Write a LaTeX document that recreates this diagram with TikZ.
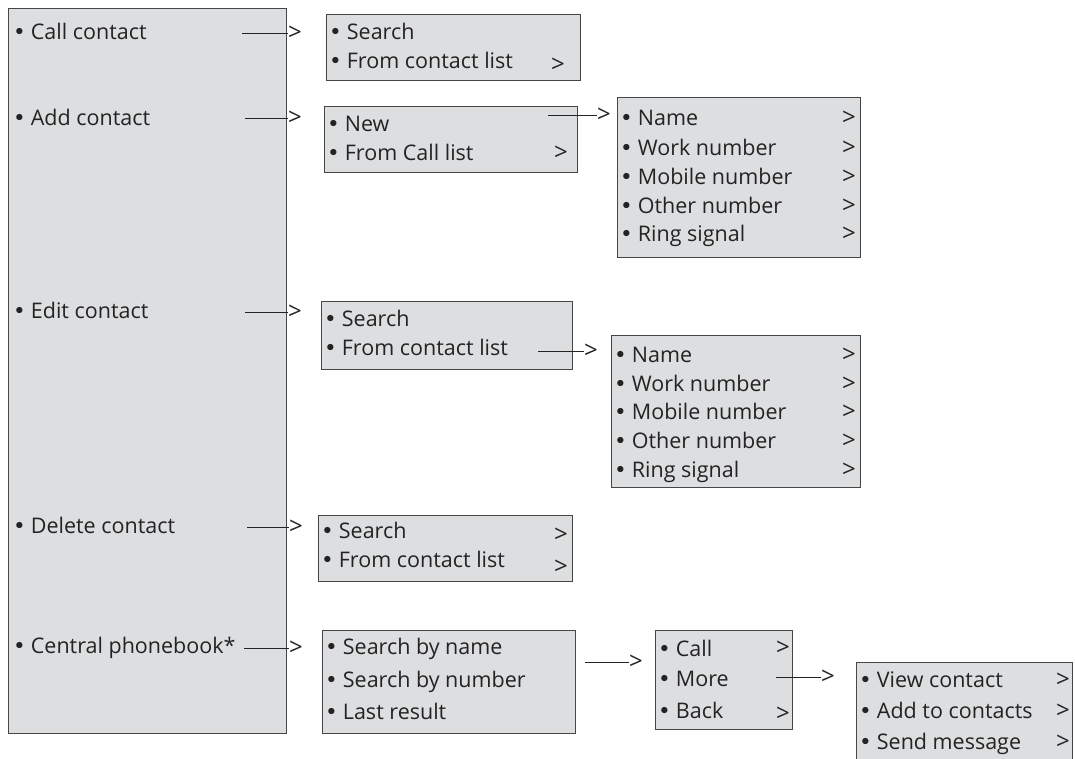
\documentclass[tikz,border=0pt]{standalone}
\usepackage{fontspec}
\setmainfont{Open Sans}
\newfontfamily\bulletfont{DejaVu Sans}
\newcommand{\mybul}{{\bulletfont •}\hspace{5pt}}
\definecolor{boxfill}{RGB}{221,222,224}
\definecolor{boxline}{RGB}{70,70,70}
\definecolor{txt}{RGB}{35,35,35}
\begin{document}
\begin{tikzpicture}[x=1pt,y=-1pt,
  box/.style={draw=boxline, fill=boxfill, line width=1.1pt, inner sep=0pt, anchor=north west},
  item/.style={anchor=base west, inner sep=0pt, font=\fontsize{21.5}{24}\selectfont, text=txt},
  gt/.style={anchor=base west, inner sep=0pt, font=\fontsize{24}{26}\selectfont, text=txt},
  tip/.style={anchor=west, inner sep=0pt, font=\fontsize{24}{26}\selectfont, text=txt},
  conn/.style={draw=txt, line width=0.9pt}]
\useasboundingbox (0,0) rectangle (1075,758);
\clip (0,0) rectangle (1075,758);

% main box
\node[box, minimum width=278, minimum height=725] (main) at (8,8) {};
\node[item] (m1) at (13,39) {\mybul Call contact};
\node[item] (m2) at (13,125) {\mybul Add contact};
\node[item] (m3) at (13,318) {\mybul Edit contact};
\node[item] (m4) at (13,533) {\mybul Delete contact};
\node[item] (m5) at (13,653) {\mybul Central phonebook*};

% box A
\node[box, minimum width=254, minimum height=66] (ba) at (326,14) {};
\node[item] (a1) at (329,39) {\mybul Search};
\node[item] (a2) at (329,68) {\mybul From contact list};
\node[gt] (a3) at (551,72) {>};

% box B
\node[box, minimum width=253, minimum height=66] (bb) at (324,106) {};
\node[item] (b1) at (327,131) {\mybul New};
\node[item] (b2) at (327,160) {\mybul From Call list};
\node[gt] (b3) at (554,160) {>};

% box C
\node[box, minimum width=243, minimum height=160] (bc) at (617,97) {};
\node[item] (c1) at (620,125) {\mybul Name};
\node[item] (c2) at (620,155) {\mybul Work number};
\node[item] (c3) at (620,184) {\mybul Mobile number};
\node[item] (c4) at (620,213) {\mybul Other number};
\node[item] (c5) at (620,241) {\mybul Ring signal};
\foreach \y [count=\i] in {125,155,184,213,241}
  \node[gt] (cg\i) at (842,\y) {>};

% box D
\node[box, minimum width=251, minimum height=68] (bd) at (321,301) {};
\node[item] (d1) at (324,326) {\mybul Search};
\node[item] (d2) at (324,355) {\mybul From contact list};

% box E
\node[box, minimum width=249, minimum height=152] (be) at (611,335) {};
\node[item] (e1) at (614,362) {\mybul Name};
\node[item] (e2) at (614,391) {\mybul Work number};
\node[item] (e3) at (614,419) {\mybul Mobile number};
\node[item] (e4) at (614,448) {\mybul Other number};
\node[item] (e5) at (614,477) {\mybul Ring signal};
\foreach \y [count=\i] in {362,391,419,448,477}
  \node[gt] (eg\i) at (842,\y) {>};

% box F
\node[box, minimum width=254, minimum height=66] (bf) at (318,515) {};
\node[item] (f1) at (321,538) {\mybul Search};
\node[item] (f2) at (321,567) {\mybul From contact list};
\node[gt] (f3) at (554,542) {>};
\node[gt] (f4) at (554,574) {>};

% box G
\node[box, minimum width=253, minimum height=103] (bg) at (322,630) {};
\node[item] (g1) at (325,654) {\mybul Search by name};
\node[item] (g2) at (325,687) {\mybul Search by number};
\node[item] (g3) at (325,719) {\mybul Last result};

% box H
\node[box, minimum width=137, minimum height=99] (bh) at (655,630) {};
\node[item] (h1) at (658,656) {\mybul Call};
\node[item] (h2) at (658,686) {\mybul More};
\node[item] (h3) at (658,718) {\mybul Back};
\node[gt] (h4) at (776,655) {>};
\node[gt] (h5) at (776,721) {>};

% box I
\node[box, minimum width=216, minimum height=120] (bi) at (856,662) {};
\node[item] (i1) at (859,687) {\mybul View contact};
\node[item] (i2) at (859,718) {\mybul Add to contacts};
\node[item] (i3) at (859,749) {\mybul Send message};
\foreach \y [count=\i] in {687,718,749}
  \node[gt] (ig\i) at (1056,\y) {>};

% connectors
\coordinate (s1) at (242,33);  \node[tip] (t1) at (288,33) {>};  \draw[conn] (s1) -- (t1.west);
\coordinate (s2) at (245,118); \node[tip] (t2) at (288,118) {>}; \draw[conn] (s2) -- (t2.west);
\coordinate (s3) at (548,115); \node[tip] (t3) at (597,115) {>}; \draw[conn] (s3) -- (t3.west);
\coordinate (s4) at (245,312); \node[tip] (t4) at (288,312) {>}; \draw[conn] (s4) -- (t4.west);
\coordinate (s5) at (538,351); \node[tip] (t5) at (584,351) {>}; \draw[conn] (s5) -- (t5.west);
\coordinate (s6) at (247,527); \node[tip] (t6) at (289,527) {>}; \draw[conn] (s6) -- (t6.west);
\coordinate (s7) at (244,648); \node[tip] (t7) at (289,648) {>}; \draw[conn] (s7) -- (t7.west);
\coordinate (s8) at (585,662); \node[tip] (t8) at (629,662) {>}; \draw[conn] (s8) -- (t8.west);
\coordinate (s9) at (776,677); \node[tip] (t9) at (821,677) {>}; \draw[conn] (s9) -- (t9.west);
\end{tikzpicture}
\end{document}
